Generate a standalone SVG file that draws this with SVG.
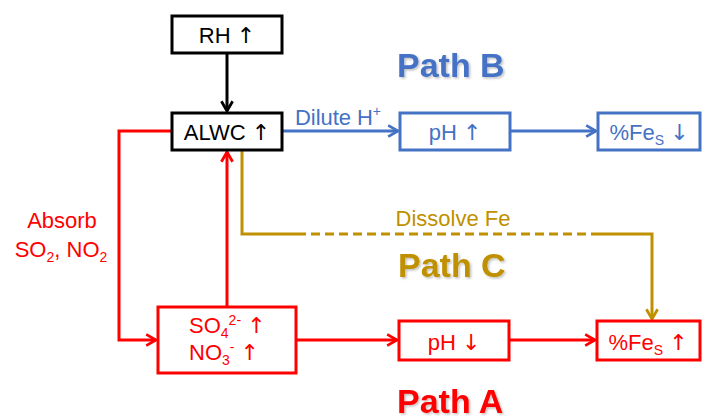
<svg xmlns="http://www.w3.org/2000/svg" width="702" height="416" viewBox="0 0 702 416">
<defs>
<style>
text{font-family:"Liberation Sans",Arial,sans-serif;font-size:22px}
.ar{font-family:"DejaVu Sans",sans-serif;font-size:22px}
.box{fill:#fff;stroke-width:3}
.k{stroke:#000}.kt{fill:#000}
.b{stroke:#4472C4}.bt{fill:#4472C4}
.r{stroke:#FF0000}.rt{fill:#FF0000}
.g{stroke:#BF9000}.gt{fill:#BF9000}
.ln{fill:none;stroke-width:3}
.path{font-weight:bold;font-size:34px}
.sm{font-size:14px}
</style>
<marker id="ab" viewBox="0 0 10 10" refX="9" refY="5" markerWidth="14" markerHeight="14" orient="auto" markerUnits="userSpaceOnUse">
<path d="M2,1 L9,5 L2,9" fill="none" stroke="#4472C4" stroke-width="2"/>
</marker>
<marker id="ar" viewBox="0 0 10 10" refX="9" refY="5" markerWidth="14" markerHeight="14" orient="auto" markerUnits="userSpaceOnUse">
<path d="M2,1 L9,5 L2,9" fill="none" stroke="#FF0000" stroke-width="2"/>
</marker>
<marker id="ag" viewBox="0 0 10 10" refX="9" refY="5" markerWidth="14" markerHeight="14" orient="auto" markerUnits="userSpaceOnUse">
<path d="M2,1 L9,5 L2,9" fill="none" stroke="#BF9000" stroke-width="2"/>
</marker>
<marker id="akk" viewBox="0 0 10 10" refX="9" refY="5" markerWidth="14" markerHeight="14" orient="auto" markerUnits="userSpaceOnUse">
<path d="M2,1 L9,5 L2,9" fill="none" stroke="#000" stroke-width="2"/>
</marker>
<filter id="sh" x="-10%" y="-10%" width="130%" height="140%">
<feDropShadow dx="1.5" dy="1.5" stdDeviation="1" flood-color="#000" flood-opacity="0.25"/>
</filter>
</defs>

<g id="connectors">
<line class="ln k" x1="227" y1="53" x2="227" y2="111" marker-end="url(#akk)"/>
<line class="ln b" x1="282" y1="131" x2="398" y2="131" marker-end="url(#ab)"/>
<line class="ln b" x1="510" y1="131" x2="596" y2="131" marker-end="url(#ab)"/>
<polyline class="ln r" points="172,131 119,131 119,340 156,340" marker-end="url(#ar)"/>
<line class="ln r" x1="227" y1="306" x2="227" y2="152" marker-end="url(#ar)"/>
<line class="ln r" x1="296" y1="340" x2="397" y2="340" marker-end="url(#ar)"/>
<line class="ln r" x1="509" y1="340" x2="595" y2="340" marker-end="url(#ar)"/>
<polyline class="ln g" points="297,234 242,234 242,151"/>
<line class="ln g" x1="297" y1="234" x2="600" y2="234" stroke-dasharray="9,5"/>
<polyline class="ln g" points="600,234 652,234 652,319" marker-end="url(#ag)"/>
<text class="bt" x="295" y="125" textLength="86">Dilute H<tspan class="sm" dy="-9">+</tspan></text>
<text class="gt" x="453" y="226" text-anchor="middle">Dissolve Fe</text>
<text class="rt" x="62" y="228" text-anchor="middle">Absorb</text>
<text class="rt" x="61" y="257" text-anchor="middle">SO<tspan class="sm" dy="5">2</tspan><tspan dy="-5">, NO</tspan><tspan class="sm" dy="5">2</tspan></text>
</g>

<g id="rh">
<rect class="box k" x="172" y="16" width="110" height="37"/>
<text class="kt" x="227" y="43" text-anchor="middle">RH <tspan class="ar">↑</tspan></text>
</g>
<g id="alwc">
<rect class="box k" x="172" y="113" width="110" height="37"/>
<text class="kt" x="227" y="140" text-anchor="middle">ALWC <tspan class="ar">↑</tspan></text>
</g>
<g id="ph-up">
<rect class="box b" x="400" y="113" width="110" height="37"/>
<text class="bt" x="455" y="140" text-anchor="middle">pH <tspan class="ar">↑</tspan></text>
</g>
<g id="fes-down">
<rect class="box b" x="598" y="113" width="102" height="37"/>
<text class="bt" x="649" y="140" text-anchor="middle">%Fe<tspan class="sm" dy="5">S</tspan><tspan dy="-5"> </tspan><tspan class="ar">↓</tspan></text>
</g>
<g id="so4-no3">
<rect class="box r" x="158" y="307" width="138" height="66"/>
<text class="rt" x="189" y="333">SO<tspan class="sm" dy="5">4</tspan><tspan class="sm" dy="-13">2-</tspan><tspan dy="8"> </tspan><tspan class="ar">↑</tspan></text>
<text class="rt" x="189" y="360">NO<tspan class="sm" dy="5">3</tspan><tspan class="sm" dy="-13">-</tspan><tspan dy="8">   </tspan><tspan class="ar">↑</tspan></text>
</g>
<g id="ph-down">
<rect class="box r" x="399" y="321" width="110" height="39"/>
<text class="rt" x="454" y="350" text-anchor="middle">pH <tspan class="ar">↓</tspan></text>
</g>
<g id="fes-up">
<rect class="box r" x="597" y="321" width="103" height="39"/>
<text class="rt" x="648" y="350" text-anchor="middle">%Fe<tspan class="sm" dy="5">S</tspan><tspan dy="-5"> </tspan><tspan class="ar">↑</tspan></text>
</g>

<g id="labels" filter="url(#sh)">
<text class="path bt" x="397" y="77">Path B</text>
<text class="path gt" x="398" y="277">Path C</text>
<text class="path rt" x="397" y="413">Path A</text>
</g>
</svg>
